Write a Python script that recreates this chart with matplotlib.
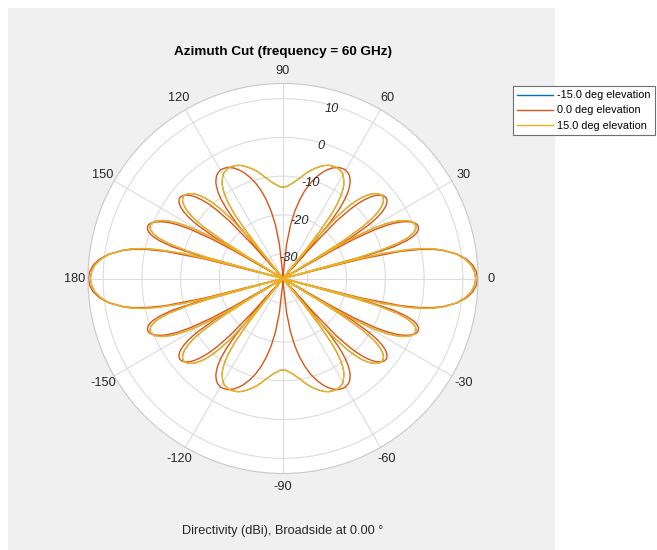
import numpy as np
import matplotlib
matplotlib.use("Agg")
import matplotlib.pyplot as plt
from matplotlib.patches import Rectangle

plt.rcParams['font.family'] = ['Liberation Sans', 'DejaVu Sans']

# Directivity (dBi) over one quadrant of azimuth (0..90 deg); the cut is
# symmetric about 0 and 90 deg, so the other quadrants are its mirror images.
az_el0 = [0, 2, 4, 6, 8, 10, 11, 12, 13, 14, 14.48, 15, 16, 17, 18, 19, 20, 21,
          22, 23, 24, 25, 26, 27, 28, 29, 29.5, 30, 30.5, 31, 32, 33, 34, 35,
          36, 37, 38, 39, 40, 41, 42, 43, 44, 45, 46, 47, 48, 48.59, 49, 50,
          51, 52, 53, 54, 55, 56, 57, 58, 59, 60, 61, 62, 63, 64, 65, 66, 67,
          68, 69, 70, 72, 74, 76, 78, 80, 82, 84, 86, 88, 90]
dir_el0 = [13.8, 13.5, 12.7, 11.2, 8.9, 5.4, 3.0, -0.3, -5.2, -15.5, -60, -15.3,
           -6.7, -3.1, -1.0, 0.2, 0.8, 1.0, 0.9, 0.4, -0.5, -1.7, -3.4, -5.8,
           -9.4, -15.5, -21.6, -60, -21.8, -16.0, -10.3, -7.3, -5.4, -4.1,
           -3.3, -2.8, -2.6, -2.7, -3.0, -3.6, -4.4, -5.6, -7.1, -9.1, -11.9,
           -16.1, -24.8, -60, -28.2, -17.6, -13.2, -10.5, -8.6, -7.3, -6.2,
           -5.5, -4.9, -4.5, -4.3, -4.1, -4.1, -4.2, -4.3, -4.5, -4.9, -5.2,
           -5.7, -6.2, -6.8, -7.5, -9.0, -10.8, -13.0, -15.6, -18.7, -22.5,
           -27.5, -34.5, -46.0, -60]

az_el15 = [0, 2, 4, 6, 8, 10, 11, 12, 13, 14, 14.5, 14.99, 15.5, 16, 17, 18,
           19, 20, 21, 22, 23, 24, 25, 26, 27, 28, 29, 30, 30.5, 31, 31.17,
           31.5, 32, 33, 34, 35, 36, 37, 38, 39, 40, 41, 42, 43, 44, 45, 46,
           47, 48, 49, 50, 50.5, 50.92, 51.5, 52, 53, 54, 55, 56, 57, 58, 59,
           60, 61, 62, 63, 64, 65, 66, 67, 68, 70, 72, 74, 76, 78, 80, 82, 84,
           86, 88, 90]
dir_el15 = [13.3, 13.0, 12.3, 10.9, 8.8, 5.6, 3.5, 0.7, -3.2, -9.7, -15.9, -60,
            -16.5, -10.8, -5.5, -2.7, -1.1, -0.1, 0.4, 0.5, 0.3, -0.2, -1.1,
            -2.3, -4.0, -6.2, -9.5, -15.0, -19.9, -31.7, -60, -26.4, -18.5,
            -11.9, -8.6, -6.5, -5.1, -4.1, -3.5, -3.2, -3.1, -3.3, -3.7, -4.3,
            -5.1, -6.2, -7.6, -9.5, -12.0, -15.6, -22.0, -28.7, -60, -26.7,
            -21.2, -15.7, -12.5, -10.4, -8.8, -7.6, -6.8, -6.1, -5.5, -5.1,
            -4.9, -4.7, -4.6, -4.6, -4.7, -4.8, -4.9, -5.4, -6.1, -6.9, -7.8,
            -8.8, -9.9, -10.8, -11.6, -12.2, -12.7, -12.8]

# the -15 deg elevation cut is identical to the +15 deg cut
az_elm15 = list(az_el15)
dir_elm15 = list(dir_el15)

series_labels = ['-15.0 deg elevation', '0.0 deg elevation', '15.0 deg elevation']
series_colors = ['#0072BD', '#D95319', '#EDB120']
series_widths = [0.7, 1.0, 1.1]

R_MIN, R_MAX = -36.4, 13.9
ring_values = [-30, -20, -10, 0, 10]
angle_ticks = list(range(0, 360, 30))


def full_circle(az, d):
    az = np.asarray(az, float)
    d = np.asarray(d, float)
    th = np.concatenate([az, 180 - az[::-1], 180 + az, 360 - az[::-1]])
    r = np.concatenate([d, d[::-1], d, d[::-1]])
    return np.deg2rad(th), np.clip(r, R_MIN, None)


W, H = 657, 550
fig = plt.figure(figsize=(W / 100, H / 100), dpi=100, facecolor='white')

# grey panel behind the plot
fig.patches.append(Rectangle((8 / W, 0), (555 - 8) / W, (H - 8) / H,
                             transform=fig.transFigure, facecolor='#f0f0f0',
                             edgecolor='none', zorder=-1))

cx, cy, rad = 283, 278.5, 195
ax = fig.add_axes([(cx - rad) / W, (H - cy - rad) / H, 2 * rad / W, 2 * rad / H],
                  projection='polar')
ax.set_facecolor('white')
ax.set_rlim(R_MIN, R_MAX)
ax.set_thetagrids(angle_ticks, labels=[])
ax.set_rgrids(ring_values, labels=[])
ax.grid(True, color='#dcdcdc', linewidth=0.8)
ax.spines['polar'].set_color('#c8c8c8')
ax.spines['polar'].set_linewidth(0.8)
ax.tick_params(length=0)

handles = []
for az, d, c, lw, lab in zip([az_elm15, az_el0, az_el15],
                             [dir_elm15, dir_el0, dir_el15],
                             series_colors, series_widths, series_labels):
    th, r = full_circle(az, d)
    ln, = ax.plot(th, r, color=c, linewidth=lw, label=lab)
    handles.append(ln)

# angle labels outside the outer circle
r_lab = R_MIN + (R_MAX - R_MIN) * 208 / rad
for a in angle_ticks:
    txt = str(a if a <= 180 else a - 360)
    ax.text(np.deg2rad(a), r_lab, txt, ha='center', va='center',
            fontsize=9.2, color='#262626', clip_on=False)

# magnitude labels along 74 deg, just inside each ring
for v in ring_values:
    ax.text(np.deg2rad(74), v - 0.9, str(v), ha='center', va='center',
            fontsize=9.2, style='italic', color='#262626')

fig.text(cx / W, 1 - 52 / H, 'Azimuth Cut (frequency = 60 GHz)',
         ha='center', va='center', fontsize=9.7, fontweight='bold', color='black')
fig.text(cx / W, 1 - 531 / H, 'Directivity (dBi), Broadside at 0.00 \u00b0',
         ha='center', va='center', fontsize=9.2, color='#262626')

leg = fig.legend(handles, series_labels, loc='upper left',
                 bbox_to_anchor=(513 / W, 1 - 86 / H), borderaxespad=0,
                 fontsize=7.8, frameon=True, fancybox=False, framealpha=1,
                 edgecolor='#6f6f6f', handlelength=3.3, handletextpad=0.35,
                 borderpad=0.4, labelspacing=0.47)
leg.get_frame().set_linewidth(0.8)
for lh in leg.get_lines():
    lh.set_linewidth(1.0)

fig.savefig('out.png', dpi=100, facecolor='white')
